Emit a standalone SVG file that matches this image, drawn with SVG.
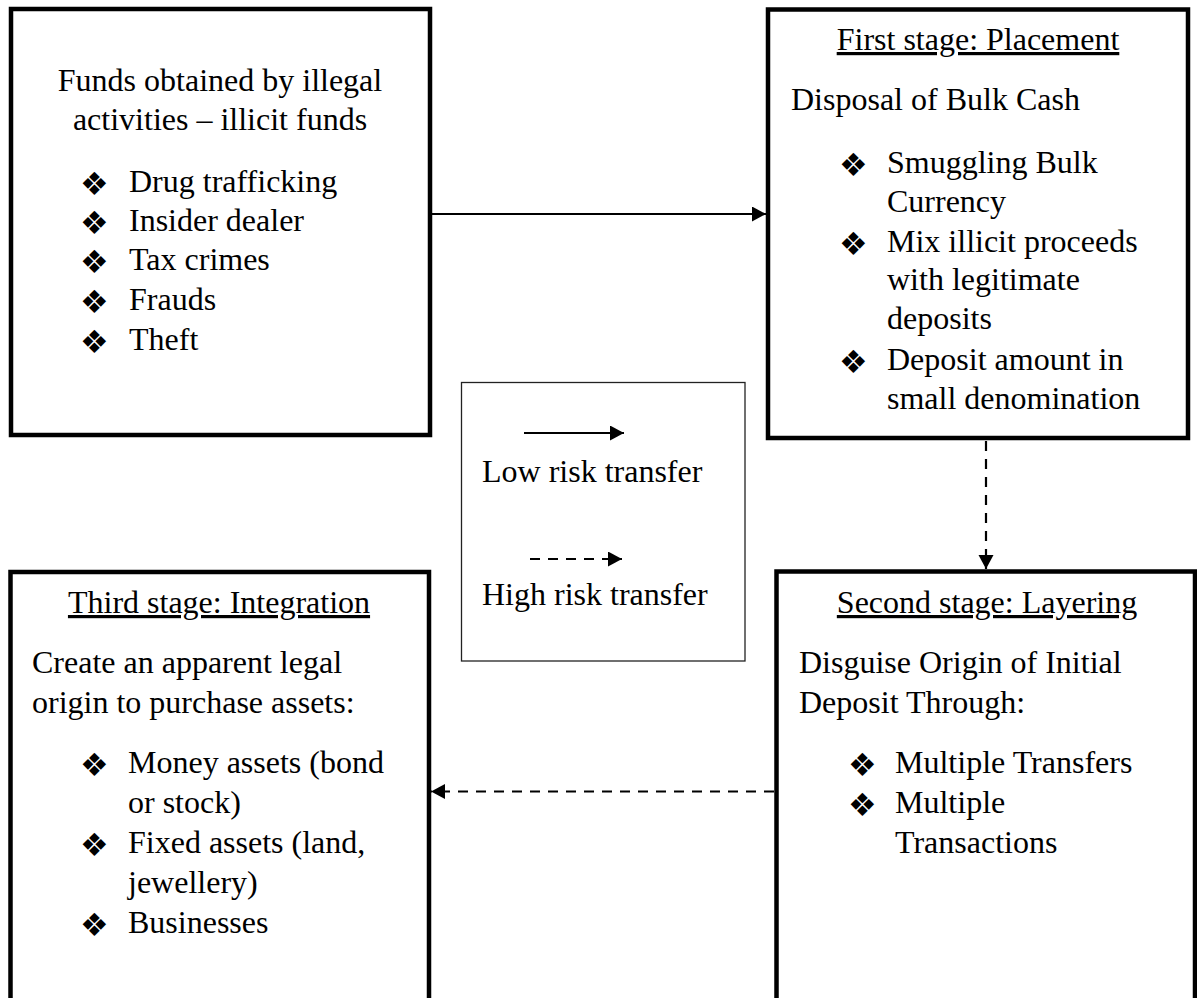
<svg xmlns="http://www.w3.org/2000/svg" width="1197" height="998" viewBox="0 0 1197 998">
<defs>
<style>
.box{fill:#fff;stroke:#000;stroke-width:4.5}
.t{font-family:"Liberation Serif","Times New Roman",serif;font-size:32px;fill:#000}
.m{text-anchor:middle}
.u{text-decoration:underline}
.b{font-family:"DejaVu Sans",sans-serif;font-size:32px;fill:#000}
.c{stroke:#000;stroke-width:2.2;fill:none}
.d{stroke-dasharray:10 8}
</style>
<marker id="ah" markerUnits="userSpaceOnUse" markerWidth="16" markerHeight="16" refX="14" refY="7.5" orient="auto">
<path d="M0,0 L14,7.5 L0,15 z" fill="#000"/>
</marker>
</defs>
<rect width="1197" height="998" fill="#fff"/>

<g id="connectors">
<line class="c" x1="432" y1="214" x2="766" y2="214" marker-end="url(#ah)"/>
<line class="c d" x1="986" y1="441" x2="986" y2="569" marker-end="url(#ah)"/>
<line class="c d" x1="774" y1="791.5" x2="431" y2="791.5" marker-end="url(#ah)"/>
</g>

<g id="funds">
<rect class="box" x="11" y="9" width="419" height="426"/>
<text class="t m" x="220" y="91">Funds obtained by illegal</text>
<text class="t m" x="220" y="130">activities – illicit funds</text>
<text class="b" x="80" y="195">❖</text><text class="t" x="129" y="192">Drug trafficking</text>
<text class="b" x="80" y="234">❖</text><text class="t" x="129" y="231">Insider dealer</text>
<text class="b" x="80" y="273">❖</text><text class="t" x="129" y="270">Tax crimes</text>
<text class="b" x="80" y="313">❖</text><text class="t" x="129" y="310">Frauds</text>
<text class="b" x="80" y="353">❖</text><text class="t" x="129" y="350">Theft</text>
</g>

<g id="placement">
<rect class="box" x="768" y="9.5" width="420" height="428.5"/>
<text class="t m u" x="978" y="50">First stage: Placement</text>
<text class="t" x="791" y="110">Disposal of Bulk Cash</text>
<text class="b" x="839" y="176">❖</text><text class="t" x="887" y="173">Smuggling Bulk</text>
<text class="t" x="887" y="212">Currency</text>
<text class="b" x="839" y="255">❖</text><text class="t" x="887" y="252">Mix illicit proceeds</text>
<text class="t" x="887" y="290">with legitimate</text>
<text class="t" x="887" y="329">deposits</text>
<text class="b" x="839" y="373">❖</text><text class="t" x="887" y="370">Deposit amount in</text>
<text class="t" x="887" y="409">small denomination</text>
</g>

<g id="legend">
<rect x="461.5" y="382.5" width="283.5" height="278.5" fill="#fff" stroke="#222" stroke-width="1.3"/>
<line class="c" x1="524" y1="433" x2="624" y2="433" marker-end="url(#ah)"/>
<text class="t" x="482" y="482">Low risk transfer</text>
<line class="c d" x1="530" y1="559" x2="622" y2="559" marker-end="url(#ah)"/>
<text class="t" x="482" y="605">High risk transfer</text>
</g>

<g id="integration">
<rect class="box" x="10.5" y="572" width="418.5" height="440"/>
<text class="t m u" x="219" y="613">Third stage: Integration</text>
<text class="t" x="32" y="673">Create an apparent legal</text>
<text class="t" x="32" y="713">origin to purchase assets:</text>
<text class="b" x="80" y="776">❖</text><text class="t" x="128" y="773">Money assets (bond</text>
<text class="t" x="128" y="813">or stock)</text>
<text class="b" x="80" y="856">❖</text><text class="t" x="128" y="853">Fixed assets (land,</text>
<text class="t" x="128" y="893">jewellery)</text>
<text class="b" x="80" y="936">❖</text><text class="t" x="128" y="933">Businesses</text>
</g>

<g id="layering">
<rect class="box" x="776.5" y="571.5" width="418.5" height="440"/>
<text class="t m u" x="987" y="613">Second stage: Layering</text>
<text class="t" x="799" y="673">Disguise Origin of Initial</text>
<text class="t" x="799" y="713">Deposit Through:</text>
<text class="b" x="848" y="776">❖</text><text class="t" x="895" y="773">Multiple Transfers</text>
<text class="b" x="848" y="816">❖</text><text class="t" x="895" y="813">Multiple</text>
<text class="t" x="895" y="853">Transactions</text>
</g>
</svg>
